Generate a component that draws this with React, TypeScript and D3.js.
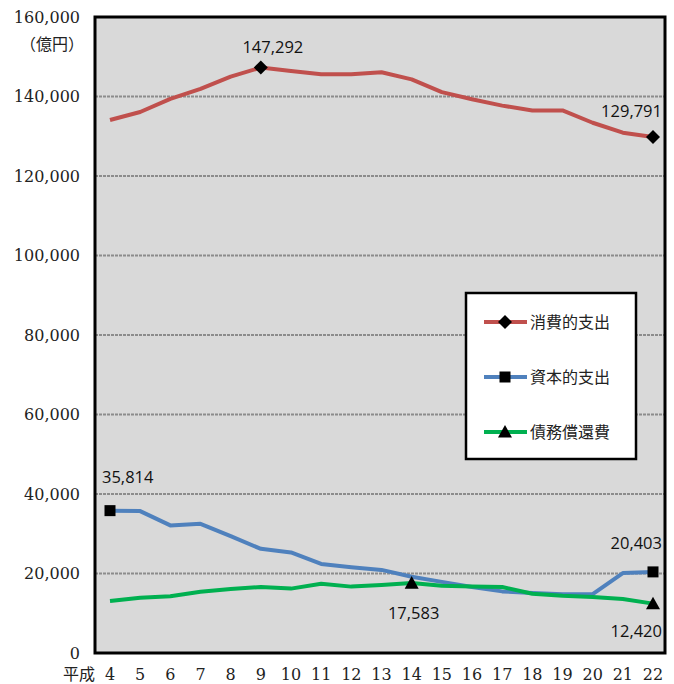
import React from "react";
import * as d3 from "d3";

const years = [4, 5, 6, 7, 8, 9, 10, 11, 12, 13, 14, 15, 16, 17, 18, 19, 20, 21, 22];
const consumption = [134100, 136100, 139400, 141900, 145000, 147292, 146400, 145600, 145600, 146100, 144300, 141100, 139300, 137700, 136500, 136500, 133400, 130900, 129791];
const capital = [35814, 35700, 32100, 32500, 29400, 26200, 25300, 22400, 21600, 20900, 19200, 17900, 16600, 15500, 15100, 14800, 14800, 20100, 20403];
const debt = [13100, 13900, 14300, 15400, 16100, 16600, 16200, 17400, 16700, 17100, 17583, 16900, 16700, 16600, 14900, 14400, 14100, 13600, 12420];
const yTicks = [0, 20000, 40000, 60000, 80000, 100000, 120000, 140000, 160000];
const seriesNames = ["消費的支出", "資本的支出", "債務償還費"];
const seriesColors = ["#c0504d", "#4f81bd", "#00b050"];

const W = 674, H = 684;
const left = 95, right = 665, top = 17, bottom = 653;

export default function App() {
  const x = d3.scalePoint<number>().domain(years).range([110, 653]);
  const y = d3.scaleLinear().domain([0, 160000]).range([bottom, top]);
  const line = d3.line<number>().x((_, i) => x(years[i])!).y(d => y(d));
  const fmt = d3.format(",");
  const serif = "'DejaVu Serif', serif";
  const sans = "'Open Sans', 'Liberation Sans', sans-serif";
  const cjk = "'Noto Sans CJK JP', sans-serif";

  const diamond = (cx: number, cy: number, s = 7) => `M${cx},${cy - s}L${cx + s},${cy}L${cx},${cy + s}L${cx - s},${cy}Z`;
  const square = (cx: number, cy: number, s = 5.5) => `M${cx - s},${cy - s}h${2 * s}v${2 * s}h${-2 * s}Z`;
  const tri = (cx: number, cy: number, s = 7) => `M${cx},${cy - s}L${cx + s},${cy + s * 0.8}L${cx - s},${cy + s * 0.8}Z`;
  const markers = [diamond, square, tri];
  const data = [consumption, capital, debt];

  const labels = [
    { s: 0, i: 5, dx: 12, dy: -15, anchor: "middle" },
    { s: 0, i: 18, dx: 9, dy: -20, anchor: "end" },
    { s: 1, i: 0, dx: -8, dy: -28, anchor: "start" },
    { s: 1, i: 18, dx: 9, dy: -23, anchor: "end" },
    { s: 2, i: 10, dx: 2, dy: 36, anchor: "middle" },
    { s: 2, i: 18, dx: 9, dy: 33, anchor: "end" },
  ];
  const markerIdx = [[5, 18], [0, 18], [10, 18]];

  return (
    <div style={{ position: "absolute", left: 0, top: 0 }}>
      <svg width={W} height={H} style={{ display: "block" }}>
        <rect x={0} y={0} width={W} height={H} fill="#fff" />
        <rect x={left} y={top} width={right - left} height={bottom - top} fill="#d9d9d9" />
        {yTicks.filter(t => t > 0).map(t => (
          <line key={t} x1={left} x2={right} y1={y(t)} y2={y(t)} stroke="#8c8c8c" strokeWidth={2.2} strokeDasharray="3,1" />
        ))}
        {yTicks.map(t => (
          <text key={t} x={80} y={y(t)} dy="0.36em" textAnchor="end" fontFamily={serif} fontSize={16} fill="#222">{fmt(t)}</text>
        ))}
        <text x={84} y={50} textAnchor="end" fontFamily={cjk} fontSize={16} fill="#222">（億円）</text>
        {years.map(v => (
          <text key={v} x={x(v)} y={680} textAnchor="middle" fontFamily={serif} fontSize={16} fill="#222">{v}</text>
        ))}
        <text x={79} y={680} textAnchor="middle" fontFamily={cjk} fontSize={16} fill="#222">平成</text>
        {data.map((d, s) => (
          <path key={s} d={line(d)!} fill="none" stroke={seriesColors[s]} strokeWidth={4} strokeLinejoin="round" />
        ))}
        {markerIdx.map((arr, s) => arr.map(i => (
          <path key={s + "-" + i} d={markers[s](x(years[i])!, y(data[s][i]))} fill="#000" />
        )))}
        {labels.map((l, k) => (
          <text key={k} x={x(years[l.i])! + l.dx} y={y(data[l.s][l.i]) + l.dy} textAnchor={l.anchor as any} fontFamily={sans} fontSize={16.5} fill="#111">{fmt(data[l.s][l.i])}</text>
        ))}
        <rect x={left} y={top} width={right - left} height={bottom - top} fill="none" stroke="#000" strokeWidth={3} />
        <rect x={466} y={293} width={170} height={166} fill="#fff" stroke="#000" strokeWidth={2.5} />
        {seriesNames.map((n, s) => {
          const ly = 322 + s * 55;
          return (
            <g key={n}>
              <line x1={484} x2={527} y1={ly} y2={ly} stroke={seriesColors[s]} strokeWidth={4} />
              <path d={markers[s](505, ly)} fill="#000" />
              <text x={530} y={ly} dy="0.36em" fontFamily={cjk} fontSize={16} fill="#222">{n}</text>
            </g>
          );
        })}
      </svg>
    </div>
  );
}
